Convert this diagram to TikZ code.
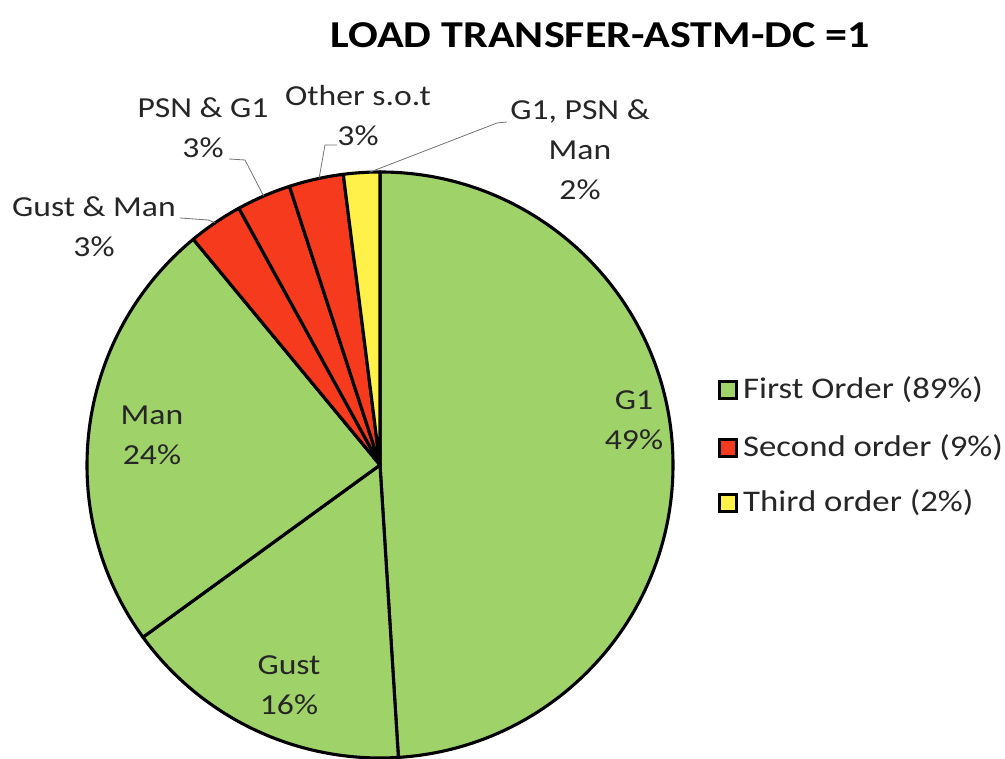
\documentclass[tikz,border=0pt]{standalone}
\usepackage{fontspec}
\setmainfont{Carlito}[FakeStretch=1.16]
\usetikzlibrary{positioning}
\definecolor{firstord}{HTML}{A0D26A}
\definecolor{secondord}{HTML}{F53A1E}
\definecolor{thirdord}{HTML}{FFF04A}
\newcommand{\pieR}{293}

\begin{document}
\begin{tikzpicture}[x=1pt, y=1pt,
  slice/.style={draw=black, line width=3.1pt, line join=round},
  lbl/.style={align=center, font=\fontsize{29}{40}\selectfont, text=black!85},
  leader/.style={draw=black!55, line width=0.8pt},
  keybox/.style={draw=black, line width=2.3pt, minimum size=17pt, inner sep=0pt},
  keytxt/.style={font=\fontsize{30}{34}\selectfont, text=black!85}]
\useasboundingbox (0,0) rectangle (1005,759);
\coordinate (c) at (380,294);

% Title
\node[font=\bfseries\fontsize{38}{44}\selectfont] (title) at (600,724) {LOAD TRANSFER-ASTM-DC =1};

% Slices, clockwise from the top
\foreach \a/\b/\col in {90/-86.4/firstord, -86.4/-144/firstord, -144/-230.4/firstord,
    129.6/118.8/secondord, 118.8/108/secondord, 108/97.2/secondord, 97.2/90/thirdord}
  \draw[slice, fill=\col] (c) -- ++(\a:\pieR) arc[start angle=\a, end angle=\b, radius=\pieR] -- cycle;

% Labels inside the pie
\node[lbl] (g1) at (634,339) {G1\\49\%};
\node[lbl] (man) at (152,324) {Man\\24\%};
\node[lbl] (gust) at (289,74) {Gust\\16\%};

% Labels outside the pie
\node[lbl] (gm) at (94,532) {Gust \& Man\\3\%};
\node[lbl] (pg) at (203,631) {PSN \& G1\\3\%};
\node[lbl] (oth) at (358,643) {Other s.o.t\\3\%};
\node[lbl] (gpm) at (580,609) {G1, PSN \&\\Man\\2\%};

% Leader lines
\path (c) ++(124.2:\pieR) coordinate (e-gm);
\path (c) ++(113.4:\pieR) coordinate (e-pg);
\path (c) ++(102:\pieR) coordinate (e-oth);
\path (c) ++(92:\pieR) coordinate (e-gpm);
\draw[leader] (180,541) -- (208,539) -- (e-gm);
\draw[leader] (229,600) -- (245,599) -- (e-pg);
\draw[leader] (337,614) -- (325,614) -- (e-oth);
\draw[leader] (507,637) -- (497,636) -- (e-gpm);

% Legend
\node[keybox, fill=firstord] (k1) at (728,369) {};
\node[keybox, fill=secondord] (k2) at (728,311) {};
\node[keybox, fill=thirdord] (k3) at (728,256) {};
\node[keytxt, right=2pt of k1] (t1) {First Order (89\%)};
\node[keytxt, right=2pt of k2] (t2) {Second order (9\%)};
\node[keytxt, right=2pt of k3] (t3) {Third order (2\%)};
\end{tikzpicture}
\end{document}
